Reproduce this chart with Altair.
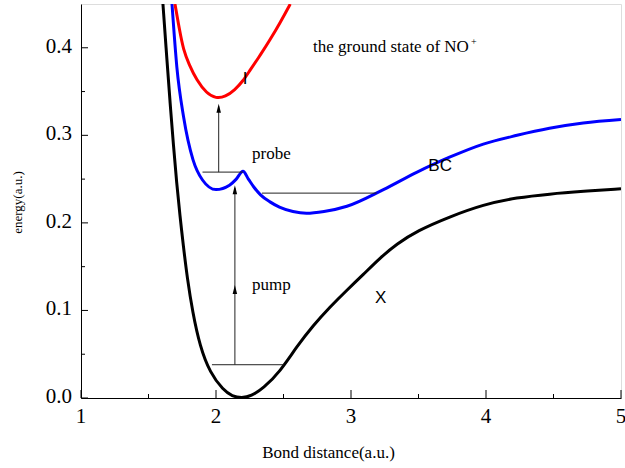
import altair as alt
import pandas as pd

# ---- data ----
black_x = [1.607, 1.637, 1.66, 1.685, 1.709, 1.733, 1.758, 1.787, 1.827, 1.881, 1.956, 2.054, 2.12, 2.19,
           2.26, 2.35, 2.474, 2.598, 2.721, 2.844, 2.968, 3.091, 3.215, 3.34, 3.49, 3.73, 3.98, 4.23, 4.47, 4.72, 5.0]
black_y = [0.45, 0.385, 0.337, 0.288, 0.245, 0.208, 0.174, 0.137, 0.098, 0.059, 0.0286, 0.009, 0.002, 0.0,
           0.002, 0.011, 0.030, 0.0587, 0.083, 0.104, 0.123, 0.141, 0.160, 0.176, 0.191, 0.207, 0.221, 0.229, 0.233, 0.236, 0.239]

blue_x = [1.674, 1.71, 1.76, 1.83, 1.90, 2.0, 2.10, 2.15, 2.20, 2.24, 2.28, 2.33, 2.40, 2.47, 2.57, 2.67, 2.80, 2.97, 3.24, 3.49, 3.73, 3.98, 4.23, 4.47, 4.72, 5.0]
blue_y = [0.45, 0.378, 0.321, 0.272, 0.249, 0.238, 0.243, 0.250, 0.259, 0.250, 0.241, 0.232, 0.224, 0.218, 0.213, 0.211, 0.213, 0.219, 0.238, 0.258, 0.275, 0.290, 0.300, 0.308, 0.314, 0.318]

red_x = [1.696, 1.73, 1.758, 1.80, 1.857, 1.93, 2.0, 2.07, 2.14, 2.20, 2.25, 2.33, 2.40, 2.48, 2.55]
red_y = [0.45, 0.42, 0.398, 0.381, 0.363, 0.348, 0.342, 0.344, 0.352, 0.362, 0.374, 0.392, 0.409, 0.430, 0.45]

# annotation segments (x, x2, y, y2)
seg_x = [1.90, 2.34, 1.97, 2.02, 2.14]
seg_x2 = [2.20, 3.19, 2.50, 2.02, 2.14]
seg_y = [0.258, 0.234, 0.038, 0.258, 0.038]
seg_y2 = [0.258, 0.234, 0.038, 0.333, 0.240]

# arrowhead tips
arrow_x = [2.02, 2.14, 2.14]
arrow_y = [0.336, 0.243, 0.129]

# serif labels
serif_text = ["the ground state of NO", "probe", "pump"]
serif_x = [2.719, 2.267, 2.267]
serif_y = [0.3954, 0.273, 0.1234]

# sans labels
sans_text = ["BC", "X", "I"]
sans_x = [3.66, 3.22, 2.215]
sans_y = [0.259, 0.1086, 0.359]

y_major = [0.0, 0.1, 0.2, 0.3, 0.4]
y_labels = ["0.0", "0.1", "0.2", "0.3", "0.4"]
y_minor = [0.05, 0.15, 0.25, 0.35]
x_major = [1, 2, 3, 4, 5]
x_labels = ["1", "2", "3", "4", "5"]
x_minor = [1.5, 2.5, 3.5, 4.5]

W, H = 540, 394
xs = alt.Scale(domain=[1, 5], nice=False, zero=False)
ys = alt.Scale(domain=[0, 0.45], nice=False, zero=False)

base_x = alt.X("x:Q", scale=xs, title="Bond distance(a.u.)",
               axis=alt.Axis(values=x_major, labels=False,
                             titleFontSize=17, titleX=247, titleY=59, titleBaseline="alphabetic"))
base_y = alt.Y("y:Q", scale=ys, title="energy(a.u.)",
               axis=alt.Axis(values=y_major, labels=False,
                             titleFontSize=13, titleAngle=-90, titleX=-60, titleY=198,
                             titleBaseline="alphabetic", titleAlign="center"))


def curve(xv, yv, color, interp):
    df = pd.DataFrame({"x": xv, "y": yv, "i": range(len(xv))})
    return alt.Chart(df).mark_line(strokeWidth=3, clip=True, interpolate=interp, color=color).encode(
        x=base_x, y=base_y, order="i:Q")


black = curve(black_x, black_y, "#000000", "basis")
blue = curve(blue_x, blue_y, "#0000ff", "monotone")
red = curve(red_x, red_y, "#ff0000", "basis")

nx = lambda f: alt.X(f, scale=xs)
ny = lambda f: alt.Y(f, scale=ys)

segs = alt.Chart(pd.DataFrame({"x": seg_x, "x2": seg_x2, "y": seg_y, "y2": seg_y2})).mark_rule(
    color="#222222", strokeWidth=1).encode(
    x=nx("x:Q"), x2="x2:Q", y=ny("y:Q"), y2="y2:Q")

arrows = alt.Chart(pd.DataFrame({"x": arrow_x, "y": arrow_y})).mark_point(
    shape="M0,0L0.5,2L-0.5,2Z", size=81, filled=True, color="#000000", opacity=1).encode(
    x=nx("x:Q"), y=ny("y:Q"))

serif = alt.Chart(pd.DataFrame({"t": serif_text, "x": serif_x, "y": serif_y})).mark_text(
    font="Liberation Serif", fontSize=17, align="left", baseline="alphabetic", color="black").encode(
    x=nx("x:Q"), y=ny("y:Q"), text="t:N")

plus = alt.Chart(pd.DataFrame({"t": ["+"], "x": [serif_x[0]], "y": [serif_y[0]]})).mark_text(
    font="Liberation Serif", fontSize=10, align="left", baseline="alphabetic", color="black",
    dx=158, dy=-7).encode(
    x=nx("x:Q"), y=ny("y:Q"), text="t:N")

sans = alt.Chart(pd.DataFrame({"t": sans_text, "x": sans_x, "y": sans_y})).mark_text(
    font="Liberation Sans", fontSize=17, align="center", baseline="alphabetic", color="black").encode(
    x=nx("x:Q"), y=ny("y:Q"), text="t:N",
    size=alt.Size("t:N", scale=alt.Scale(domain=["BC", "X", "I"], range=[17, 17, 14]), legend=None))

ylab = alt.Chart(pd.DataFrame({"v": y_major, "t": y_labels})).mark_text(
    font="Liberation Serif", fontSize=21, align="right", baseline="alphabetic", color="black",
    dy=5).encode(y=ny("v:Q"), x=alt.value(-9), text="t:N")
xlab = alt.Chart(pd.DataFrame({"v": x_major, "t": x_labels})).mark_text(
    font="Liberation Serif", fontSize=21, align="center", baseline="alphabetic", color="black").encode(
    x=nx("v:Q"), y=alt.value(H + 25), text="t:N")

ytick_major = alt.Chart(pd.DataFrame({"v": y_major})).mark_rule(color="black", strokeWidth=1).encode(
    y=ny("v:Q"), x=alt.value(0), x2=alt.value(7))
ytick_minor = alt.Chart(pd.DataFrame({"v": y_minor})).mark_rule(color="black", strokeWidth=1).encode(
    y=ny("v:Q"), x=alt.value(0), x2=alt.value(4))
xtick_major = alt.Chart(pd.DataFrame({"v": x_major})).mark_rule(color="black", strokeWidth=1).encode(
    x=nx("v:Q"), y=alt.value(H), y2=alt.value(H - 8))
xtick_minor = alt.Chart(pd.DataFrame({"v": x_minor})).mark_rule(color="black", strokeWidth=1).encode(
    x=nx("v:Q"), y=alt.value(H), y2=alt.value(H - 4))

chart = alt.layer(
    black, blue, red, segs, arrows, serif, plus, sans, ylab, xlab,
    ytick_major, ytick_minor, xtick_major, xtick_minor,
).properties(
    width=W, height=H,
    autosize=alt.AutoSizeParams(type="none"),
    padding={"left": 81, "top": 4, "right": 4, "bottom": 70},
).configure_view(stroke="black", strokeWidth=1).configure(background="white").configure_axis(
    ticks=False, tickSize=0, grid=False, domainColor="black", domainWidth=1,
    titleFont="Liberation Serif", titleFontWeight="normal", titleColor="black",
)

chart.save("out.html", embed_options={"renderer": "svg", "actions": False})
